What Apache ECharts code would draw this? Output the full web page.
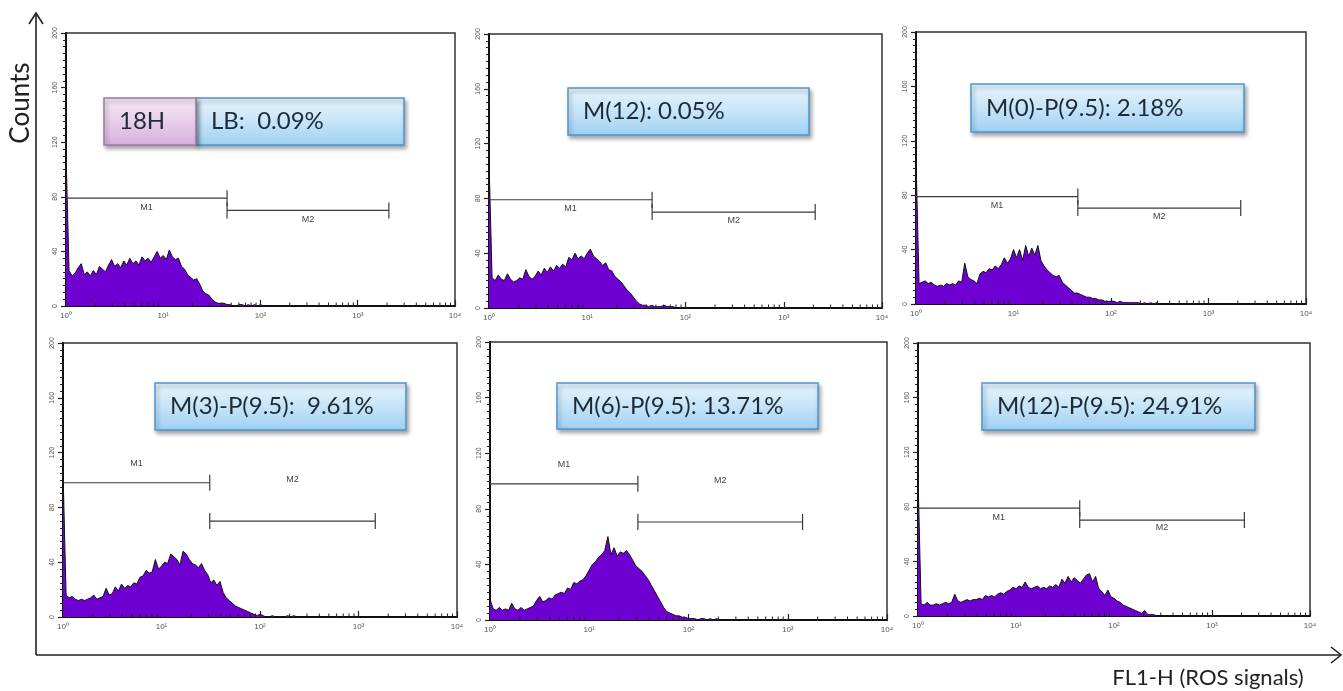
<!DOCTYPE html>
<html><head><meta charset="utf-8">
<script src="https://cdn.jsdelivr.net/npm/echarts@6/dist/echarts.min.js"></script>
<style>html,body{margin:0;padding:0;background:#fff}#c{width:1343px;height:691px}</style>
</head><body><div id="c"></div>
<script>
// ---- data ----
const binsPerDecade = 32; // histogram channels per decade, starting at 10^0
const countsLB18H = [112,26,22,24,28,31,23,25,22,26,23,29,27,25,30,34,29,31,28,33,30,35,31,33,30,36,33,35,32,36,40,35,37,34,41,36,34,35,29,27,23,21,19,20,16,11,9,8,5,3,2,2,2,1,1,0,0,1,1,0,1,0,1,0,1,0,0];
const countsM12 = [108,22,20,24,21,20,25,21,19,20,22,21,28,23,21,23,27,24,29,26,30,27,31,29,32,30,37,35,40,36,38,36,40,43,38,36,34,31,33,28,27,23,21,19,16,13,11,8,5,3,2,2,1,2,1,1,1,2,1,1,1,0,0];
const countsM0P = [107,15,16,17,15,16,14,13,14,13,15,14,15,14,17,16,30,20,18,17,15,22,24,23,26,25,28,26,29,34,30,33,40,34,40,32,43,35,41,36,43,32,28,25,23,21,20,21,16,14,12,10,8,8,7,6,5,5,4,4,3,3,2,2,2,2,1,2,1,1,1,1,1,1,0,1,0,1,0,1,0,0];
const countsM3P = [107,16,14,15,13,12,13,12,13,14,16,13,14,15,21,16,17,22,19,24,21,23,22,25,24,29,30,34,32,33,42,35,37,40,39,46,44,42,38,48,46,42,39,38,36,39,34,31,25,27,23,26,18,14,12,10,8,7,6,5,4,3,2,1,2,1,0,0,1,0,0,0,0,1,0,1,0,0];
const countsM6P = [15,8,7,9,7,8,7,12,8,7,9,7,8,9,10,14,17,13,14,16,15,18,19,20,19,23,22,27,26,28,29,32,36,40,42,45,47,50,60,47,52,46,49,48,50,47,43,39,37,35,32,29,25,21,17,13,9,6,5,4,3,3,2,2,1,1,1,0,1,1,0,1,0,1,0,0];
const countsM12P = [103,9,8,10,8,8,9,8,9,10,9,10,16,11,10,11,12,11,12,12,13,12,15,14,15,14,16,17,16,18,19,21,20,22,21,25,21,20,21,22,20,21,20,22,21,23,21,27,24,29,25,28,26,24,27,30,31,25,29,20,18,15,19,14,13,11,10,8,7,6,5,4,3,2,4,1,1,1,0,0];
const panelCounts = [countsLB18H, countsM12, countsM0P, countsM3P, countsM6P, countsM12P];
const panelLabels = ['LB:  0.09%', 'M(12): 0.05%', 'M(0)-P(9.5): 2.18%', 'M(3)-P(9.5):  9.61%', 'M(6)-P(9.5): 13.71%', 'M(12)-P(9.5): 24.91%'];
const firstTag = '18H';
const markerNames = ['M1', 'M2'];
const m1End = [45.3, 45.7, 45.7, 30.9, 30.9, 44.7];
const m1Y = [79, 79, 79, 98, 98, 79];
const m1LabelY = [72.5, 72.5, 72.5, 112, 112, 72.5];
const m2End = [2090, 2090, 2140, 1480, 1410, 2140];
const m2Y = [70, 70, 70.5, 70, 70.5, 70.3];
const m2LabelY = [63.5, 63.5, 64, 100, 100, 64.5];
const xTickLabels = ['10\u2070', '10\u00b9', '10\u00b2', '10\u00b3', '10\u2074'];
const xMinorSteps = [2, 3, 4, 5, 6, 7, 8, 9];
const yTickLabels = ['0', '40', '80', '120', '160', '200'];
const axisTitleY = 'Counts';
const axisTitleX = 'FL1-H (ROS signals)';

// ---- layout ----
const gridBoxes = [
  [66, 33, 389, 273], [489, 34, 393, 274], [916, 32, 390, 272],
  [63, 343, 394, 274], [490, 342, 397, 278], [918, 343, 392, 273]
];
const labelBoxes = [
  [196, 98, 208, 47], [568, 88, 241, 47], [971, 84, 273, 48],
  [155, 383, 251, 47], [557, 383, 261, 46], [982, 383, 273, 47]
];
const tagBox = [104, 98, 92, 47];

// minor tick values of the log axis (2..9 x each decade)
const minorTickValues = [];
[1, 10, 100, 1000].forEach(d => xMinorSteps.forEach(s => minorTickValues.push(s * d)));

const grids = [], xAxes = [], yAxes = [], series = [];
gridBoxes.forEach((g, i) => {
  grids.push({left: g[0], top: g[1], width: g[2], height: g[3], show: true,
    borderColor: '#333', borderWidth: 1.5, backgroundColor: 'transparent'});
  xAxes.push({type: 'log', logBase: 10, min: 1, max: 10000, gridIndex: i,
    axisLine: {lineStyle: {color: '#111', width: 2}},
    axisTick: {inside: true, length: 6, lineStyle: {color: '#222', width: 1.2}},
    splitLine: {show: false},
    axisLabel: {fontSize: 8, color: '#555', margin: 6, fontFamily: 'Liberation Sans',
      formatter: v => xTickLabels[Math.round(Math.log10(v))]}});
  yAxes.push({type: 'value', min: 0, max: 200, interval: 40, gridIndex: i,
    axisLine: {show: true, lineStyle: {color: '#111', width: 2}},
    axisTick: {show: true, length: 5, lineStyle: {color: '#222', width: 1.2}},
    minorTick: {show: true, splitNumber: 8, length: 3, lineStyle: {color: '#222', width: 1}},
    splitLine: {show: false},
    axisLabel: {fontSize: 7, color: '#555', rotate: 90, margin: 7, fontFamily: 'Liberation Sans',
      formatter: v => yTickLabels[Math.round(v / 40)]}});
  series.push({type: 'line', xAxisIndex: i, yAxisIndex: i, symbol: 'none', silent: true,
    data: panelCounts[i].map((c, k) => [Math.pow(10, k / binsPerDecade), c]),
    lineStyle: {color: '#111', width: 1}, areaStyle: {color: '#6e00d2', opacity: 1}, z: 3});
  // log minor ticks on the x axis
  series.push({type: 'custom', xAxisIndex: i, yAxisIndex: i, silent: true, z: 6, clip: false,
    data: minorTickValues.map(v => [v, 0]),
    renderItem(params, api) {
      const p = api.coord([api.value(0), 0]);
      return {type: 'line', shape: {x1: p[0], y1: p[1], x2: p[0], y2: p[1] - 3.5},
        style: {stroke: '#222', lineWidth: 1}};
    }});
  const rows = [[1, m1End[i], m1Y[i], m1LabelY[i]], [m1End[i], m2End[i], m2Y[i], m2LabelY[i]]];
  series.push({type: 'custom', xAxisIndex: i, yAxisIndex: i, silent: true, z: 5,
    data: rows, encode: {x: [0, 1], y: [2, 3]},
    renderItem(params, api) {
      const a = api.coord([api.value(0), api.value(2)]);
      const b = api.coord([api.value(1), api.value(2)]);
      const l = api.coord([Math.sqrt(api.value(0) * api.value(1)), api.value(3)]);
      const cap = 8;
      const st = {stroke: '#3a3a3a', lineWidth: 1.2};
      const ch = [
        {type: 'line', shape: {x1: a[0], y1: a[1], x2: b[0], y2: b[1]}, style: st},
        {type: 'line', shape: {x1: b[0], y1: b[1] - cap, x2: b[0], y2: b[1] + cap}, style: st},
        {type: 'text', x: l[0], y: l[1], style: {text: markerNames[params.dataIndex], align: 'center',
          verticalAlign: 'middle', fontSize: 9, fill: '#444', fontFamily: 'Liberation Sans'}}
      ];
      if (params.dataIndex > 0) ch.push({type: 'line', shape: {x1: a[0], y1: a[1] - cap, x2: a[0], y2: a[1] + cap}, style: st});
      return {type: 'group', children: ch};
    }});
});

const blueFill = {type: 'linear', x: 0, y: 0, x2: 0, y2: 1,
  colorStops: [{offset: 0, color: '#e9f5fd'}, {offset: 0.5, color: '#c6e4f8'}, {offset: 1, color: '#9fd0f3'}]};
const pinkFill = {type: 'linear', x: 0, y: 0, x2: 0, y2: 1,
  colorStops: [{offset: 0, color: '#f6e8f6'}, {offset: 0.5, color: '#e8cdea'}, {offset: 1, color: '#d6b1dc'}]};
const shadow = {shadowBlur: 4, shadowOffsetX: 2, shadowOffsetY: 3, shadowColor: 'rgba(0,0,0,0.35)'};
const textFont = {fontSize: 24, fontFamily: 'Lato', fill: '#1e2a36'};

const graphic = [];
labelBoxes.forEach((b, i) => {
  graphic.push({type: 'rect', shape: {x: b[0], y: b[1], width: b[2], height: b[3]}, z: 10,
    style: Object.assign({fill: blueFill, stroke: '#4a97d2', lineWidth: 1.5}, shadow)});
  graphic.push({type: 'text', x: b[0] + 15, y: b[1] + b[3] / 2, z: 11,
    style: Object.assign({text: panelLabels[i], verticalAlign: 'middle', align: 'left'}, textFont)});
});
graphic.push({type: 'rect', shape: {x: tagBox[0], y: tagBox[1], width: tagBox[2], height: tagBox[3]}, z: 10,
  style: Object.assign({fill: pinkFill, stroke: '#9a7aa2', lineWidth: 1.5}, shadow)});
graphic.push({type: 'text', x: tagBox[0] + 15, y: tagBox[1] + tagBox[3] / 2, z: 11,
  style: Object.assign({text: firstTag, verticalAlign: 'middle', align: 'left'}, textFont)});
// outer axes
const axStyle = {stroke: '#222', lineWidth: 1.6, fill: null};
graphic.push({type: 'line', shape: {x1: 36, y1: 655, x2: 36, y2: 13}, style: axStyle, z: 2});
graphic.push({type: 'polyline', shape: {points: [[29, 24], [36, 13], [43, 24]]}, style: axStyle, z: 2});
graphic.push({type: 'line', shape: {x1: 36, y1: 655, x2: 1341, y2: 655}, style: axStyle, z: 2});
graphic.push({type: 'polyline', shape: {points: [[1331, 647], [1341, 655], [1331, 663]]}, style: axStyle, z: 2});
graphic.push({type: 'text', x: 21, y: 103, rotation: Math.PI / 2, z: 2,
  style: {text: axisTitleY, align: 'center', verticalAlign: 'middle', fontSize: 26, fontFamily: 'Lato', fill: '#222'}});
graphic.push({type: 'text', x: 1208, y: 678, z: 2,
  style: {text: axisTitleX, align: 'center', verticalAlign: 'middle', fontSize: 22, fontFamily: 'Lato', fill: '#222'}});

const chart = echarts.init(document.getElementById('c'), null, {renderer: 'canvas'});
chart.setOption({animation: false, backgroundColor: '#fff', grid: grids, xAxis: xAxes, yAxis: yAxes, series, graphic});
</script></body></html>
